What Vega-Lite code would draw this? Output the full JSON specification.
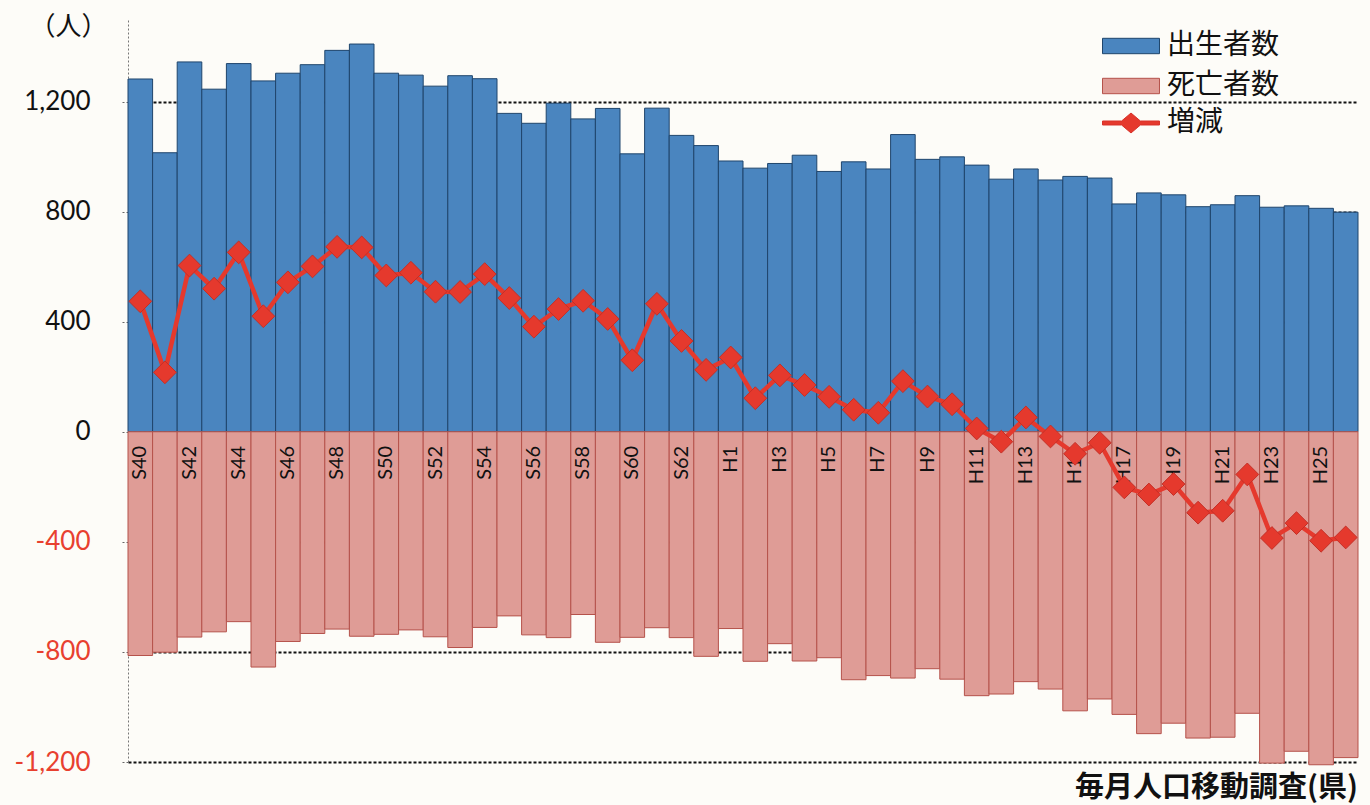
{
  "$schema": "https://vega.github.io/schema/vega-lite/v6.json",
  "autosize": {"type": "none"},
  "padding": {"left": 128, "top": 19, "right": 12, "bottom": 43},
  "width": 1230,
  "height": 743,
  "background": "#fdfcf8",
  "title": {"text": "毎月人口移動調査(県)", "orient": "bottom", "anchor": "end", "frame": "group", "offset": 13, "baseline": "middle", "font": "Noto Sans CJK JP", "fontSize": 29, "fontWeight": "bold", "color": "#111"},
  "config": {"view": {"stroke": null}},
  "data": {"values": [
    {"year": "S40", "birth": 1282, "death": -813, "change": 474},
    {"year": "S41", "birth": 1014, "death": -801, "change": 216},
    {"year": "S42", "birth": 1344, "death": -746, "change": 604},
    {"year": "S43", "birth": 1245, "death": -727, "change": 520},
    {"year": "S44", "birth": 1338, "death": -690, "change": 652},
    {"year": "S45", "birth": 1275, "death": -855, "change": 420},
    {"year": "S46", "birth": 1303, "death": -762, "change": 543},
    {"year": "S47", "birth": 1334, "death": -733, "change": 601},
    {"year": "S48", "birth": 1386, "death": -717, "change": 672},
    {"year": "S49", "birth": 1409, "death": -743, "change": 670},
    {"year": "S50", "birth": 1303, "death": -736, "change": 568},
    {"year": "S51", "birth": 1296, "death": -720, "change": 578},
    {"year": "S52", "birth": 1256, "death": -745, "change": 509},
    {"year": "S53", "birth": 1294, "death": -784, "change": 508},
    {"year": "S54", "birth": 1283, "death": -711, "change": 573},
    {"year": "S55", "birth": 1157, "death": -669, "change": 486},
    {"year": "S56", "birth": 1121, "death": -738, "change": 382},
    {"year": "S57", "birth": 1194, "death": -748, "change": 446},
    {"year": "S58", "birth": 1137, "death": -664, "change": 476},
    {"year": "S59", "birth": 1175, "death": -765, "change": 410},
    {"year": "S60", "birth": 1010, "death": -747, "change": 260},
    {"year": "S61", "birth": 1176, "death": -712, "change": 465},
    {"year": "S62", "birth": 1077, "death": -748, "change": 330},
    {"year": "S63", "birth": 1040, "death": -816, "change": 225},
    {"year": "H1", "birth": 984, "death": -715, "change": 270},
    {"year": "H2", "birth": 958, "death": -834, "change": 122},
    {"year": "H3", "birth": 975, "death": -770, "change": 205},
    {"year": "H4", "birth": 1005, "death": -833, "change": 170},
    {"year": "H5", "birth": 946, "death": -821, "change": 127},
    {"year": "H6", "birth": 981, "death": -901, "change": 80},
    {"year": "H7", "birth": 955, "death": -886, "change": 69},
    {"year": "H8", "birth": 1080, "death": -895, "change": 184},
    {"year": "H9", "birth": 990, "death": -861, "change": 128},
    {"year": "H10", "birth": 999, "death": -899, "change": 100},
    {"year": "H11", "birth": 969, "death": -959, "change": 12},
    {"year": "H12", "birth": 918, "death": -953, "change": -36},
    {"year": "H13", "birth": 955, "death": -908, "change": 52},
    {"year": "H14", "birth": 915, "death": -935, "change": -17},
    {"year": "H15", "birth": 928, "death": -1014, "change": -80},
    {"year": "H16", "birth": 922, "death": -971, "change": -40},
    {"year": "H17", "birth": 828, "death": -1027, "change": -202},
    {"year": "H18", "birth": 868, "death": -1097, "change": -228},
    {"year": "H19", "birth": 861, "death": -1059, "change": -190},
    {"year": "H20", "birth": 818, "death": -1113, "change": -294},
    {"year": "H21", "birth": 825, "death": -1110, "change": -287},
    {"year": "H22", "birth": 858, "death": -1023, "change": -155},
    {"year": "H23", "birth": 816, "death": -1204, "change": -386},
    {"year": "H24", "birth": 821, "death": -1161, "change": -332},
    {"year": "H25", "birth": 812, "death": -1210, "change": -396},
    {"year": "H26", "birth": 798, "death": -1184, "change": -384}
  ]},
  "encoding": {
    "x": {"field": "year", "type": "nominal", "sort": null, "axis": null, "scale": {"paddingInner": 0, "paddingOuter": 0}}
  },
  "layer": [
    {
      "mark": {"type": "bar", "strokeWidth": 1},
      "encoding": {
        "y": {"field": "birth", "type": "quantitative",
          "scale": {"domain": [-1200, 1500], "nice": false},
          "axis": {
            "values": [-1200, -800, -400, 0, 400, 800, 1200],
            "labelExpr": "replace(format(datum.value, ','), '\u2212', '-')",
            "labelFont": "Lato", "labelFontSize": 26,
            "labelColor": {"condition": {"test": "datum.value < 0", "value": "#e8402f"}, "value": "#111111"},
            "labelPadding": 30, "labelBaseline": "middle",
            "tickSize": 8, "tickDash": [2, 2], "tickColor": "#666666",
            "domainDash": [2, 2], "domainColor": "#777777",
            "grid": true, "gridDash": [3, 2], "gridColor": "#111111", "gridWidth": 2,
            "title": "（人）", "titleAngle": 0, "titleX": -60, "titleY": 7,
            "titleAlign": "center", "titleBaseline": "middle",
            "titleFont": "Noto Sans CJK JP", "titleFontSize": 26, "titleFontWeight": "normal", "titleColor": "#111111"
          }
        },
        "color": {"datum": "出生者数", "type": "nominal",
          "scale": {"domain": ["出生者数", "死亡者数"], "range": ["#4a85bf", "#df9c96"]},
          "legend": {
            "orient": "none", "legendX": 988, "legendY": 12, "title": null, "padding": 0,
            "labelFont": "Noto Sans CJK JP", "labelFontSize": 28, "labelColor": "#111111",
            "symbolSize": 812, "symbolType": "M-2,-0.54H2V0.54H-2Z", "symbolStrokeWidth": 1,
            "labelOffset": 21, "rowPadding": 11, "symbolOpacity": 1
          }
        },
        "stroke": {"datum": "出生者数", "type": "nominal",
          "scale": {"domain": ["出生者数", "死亡者数"], "range": ["#1f456c", "#b5524b"]},
          "legend": {
            "orient": "none", "legendX": 988, "legendY": 12, "title": null, "padding": 0,
            "labelFont": "Noto Sans CJK JP", "labelFontSize": 28, "labelColor": "#111111",
            "symbolSize": 812, "symbolType": "M-2,-0.54H2V0.54H-2Z", "symbolStrokeWidth": 1,
            "labelOffset": 21, "rowPadding": 11, "symbolOpacity": 1
          }
        }
      }
    },
    {
      "mark": {"type": "bar", "strokeWidth": 1},
      "encoding": {
        "y": {"field": "death", "type": "quantitative"},
        "color": {"datum": "死亡者数", "type": "nominal"},
        "stroke": {"datum": "死亡者数", "type": "nominal"}
      }
    },
    {
      "transform": [{"filter": {"field": "year", "oneOf": ["S40","S42","S44","S46","S48","S50","S52","S54","S56","S58","S60","S62","H1","H3","H5","H7","H9","H11","H13","H15","H17","H19","H21","H23","H25"]}}],
      "mark": {"type": "text", "angle": 270, "align": "right", "baseline": "middle", "dx": -14, "font": "Lato", "fontSize": 20, "color": "#111111"},
      "encoding": {
        "y": {"datum": 0, "type": "quantitative"},
        "text": {"field": "year"}
      }
    },
    {
      "mark": {"type": "line", "strokeWidth": 4.5, "color": "#e5392d"},
      "encoding": {
        "y": {"field": "change", "type": "quantitative"}
      }
    },
    {
      "mark": {"type": "point", "shape": "diamond", "size": 520, "filled": true, "stroke": "#c42f26", "strokeWidth": 1, "opacity": 1},
      "encoding": {
        "y": {"field": "change", "type": "quantitative"},
        "fill": {"datum": "増減", "type": "nominal",
          "scale": {"domain": ["増減"], "range": ["#e5392d"]},
          "legend": {
            "orient": "none", "legendX": 988, "legendY": 89, "title": null, "padding": 0,
            "labelFont": "Noto Sans CJK JP", "labelFontSize": 28, "labelColor": "#111111",
            "symbolSize": 812, "symbolType": "M-2,-0.14H-0.66L0,-0.7L0.66,-0.14H2V0.14H0.66L0,0.7L-0.66,0.14H-2Z",
            "symbolStrokeColor": "#d8322a", "symbolStrokeWidth": 1, "symbolOpacity": 1,
            "labelOffset": 21
          }
        }
      }
    }
  ]
}
